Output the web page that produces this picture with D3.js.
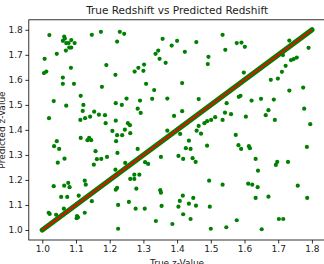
<!DOCTYPE html>
<html>
<head>
<meta charset="utf-8">
<script src="https://cdn.jsdelivr.net/npm/d3@7"></script>
<style>
  html, body { margin: 0; padding: 0; background: #fff; }
  svg { display: block; }
  text { font-family: "DejaVu Sans", sans-serif; }
</style>
</head>
<body>
<svg id="chart" width="324" height="264"></svg>
<script>
// ---- data ----
const trueZ = [
  1.021,1.065,1.067,1.061,1.086,1.071,1.078,1.096,1.080,1.086,1.070,1.043,1.007,1.147,1.174,1.230,1.243,1.222,1.190,1.217,
  1.085,1.012,1.005,1.061,1.061,1.094,1.177,1.114,1.250,1.034,1.218,1.236,1.071,1.122,1.120,1.154,1.168,1.186,1.142,1.127,
  1.113,1.020,1.188,1.218,1.254,1.260,
  1.357,1.400,1.384,1.344,1.336,1.423,1.348,1.366,1.302,1.285,1.300,1.274,1.457,1.535,1.543,1.493,1.491,1.308,1.415,1.332,
  1.290,1.326,1.371,1.464,1.283,1.292,1.415,1.391,1.464,1.481,1.489,1.501,1.513,1.535,1.542,
  1.577,1.591,1.601,1.733,1.790,1.714,1.738,1.746,1.755,1.722,1.711,1.598,1.678,1.699,1.733,1.774,1.588,1.583,1.621,1.649,
  1.687,1.547,1.777,1.671,1.560,1.663,1.604,1.690,1.795,
  1.114,1.134,1.139,1.145,1.043,1.035,1.050,1.208,1.222,1.237,1.219,1.245,1.158,1.223,1.192,1.162,1.175,1.066,1.046,1.153,
  1.246,1.217,1.126,1.129,1.077,1.065,1.081,1.034,1.222,1.218,1.056,1.074,1.108,1.147,1.225,1.064,1.019,1.022,1.041,1.126,
  1.103,1.106,1.102,1.225,
  1.261,1.371,1.409,1.458,1.471,1.435,1.489,1.426,1.440,1.283,1.404,1.418,1.446,1.455,1.352,1.305,1.314,1.273,1.288,1.261,
  1.273,1.495,1.535,1.279,1.350,1.352,1.417,1.448,1.408,1.257,1.435,1.456,1.354,1.404,1.497,1.277,1.304,1.418,1.440,1.337,
  1.386,1.500,1.546,
  1.574,1.582,1.590,1.613,1.616,1.785,1.633,1.697,1.693,1.729,1.640,1.611,1.623,1.639,1.758,1.633,1.671,1.786,1.577,1.702,
  1.715,1.651
];
const predZ = [
  1.779,1.773,1.765,1.756,1.759,1.747,1.747,1.747,1.729,1.729,1.717,1.704,1.684,1.780,1.792,1.792,1.784,1.753,1.659,1.620,
  1.648,1.633,1.627,1.609,1.584,1.584,1.572,1.536,1.525,1.515,1.507,1.500,1.497,1.500,1.476,1.473,1.461,1.459,1.453,1.447,
  1.440,1.447,1.427,1.437,1.427,1.419,
  1.764,1.756,1.737,1.717,1.704,1.712,1.684,1.668,1.661,1.648,1.636,1.633,1.751,1.780,1.720,1.692,1.663,1.584,1.587,1.559,
  1.517,1.524,1.525,1.523,1.485,1.468,1.475,1.456,1.416,1.427,1.435,1.440,1.451,1.440,1.469,
  1.747,1.749,1.732,1.757,1.728,1.699,1.679,1.683,1.689,1.656,1.632,1.629,1.600,1.605,1.557,1.569,1.536,1.532,1.517,1.524,
  1.521,1.507,1.485,1.479,1.463,1.459,1.453,1.440,1.423,
  1.368,1.359,1.368,1.359,1.355,1.335,1.324,1.396,1.379,1.379,1.355,1.401,1.315,1.308,1.292,1.283,1.284,1.285,1.269,1.261,
  1.268,1.241,1.197,1.181,1.188,1.177,1.171,1.175,1.168,1.161,1.132,1.132,1.137,1.115,1.100,1.085,1.069,1.064,1.061,1.069,
  1.056,1.051,1.047,1.005,
  1.387,1.397,1.384,1.397,1.385,1.357,1.337,1.327,1.324,1.324,1.296,1.284,1.287,1.272,1.292,1.271,1.264,1.221,1.221,1.204,
  1.204,1.197,1.181,1.165,1.159,1.149,1.137,1.128,1.116,1.112,1.105,1.097,1.096,1.093,1.093,1.085,1.085,1.063,1.044,1.036,
  1.024,1.005,1.011,
  1.380,1.339,1.324,1.335,1.327,1.332,1.284,1.272,1.260,1.272,1.237,1.185,1.181,1.171,1.177,1.128,1.133,1.128,1.039,1.044,
  1.044,1.003
];
// points that lie on the diagonal (predicted == true), drawn as a dense band, and the identity line
const bandZ = [1.0, 1.8];
const lineZ = [1.0, 1.8];
const xTicks = [1.0, 1.1, 1.2, 1.3, 1.4, 1.5, 1.6, 1.7, 1.8];
const yTicks = [1.0, 1.1, 1.2, 1.3, 1.4, 1.5, 1.6, 1.7, 1.8];
const titleText = "True Redshift vs Predicted Redshift";
const xLabel = "True z-Value";
const yLabel = "Predicted z-Value";

// ---- drawing ----
const svg = d3.select("#chart");
const mLeft = 28.8, mRight = 325.4, mTop = 19.8, mBottom = 240;
const x = d3.scaleLinear().domain([0.96, 1.84]).range([mLeft, mRight]);
const y = d3.scaleLinear().domain([0.96, 1.84]).range([mBottom, mTop]);

// scatter
svg.append("g").selectAll("circle")
  .data(trueZ.map((t, i) => [t, predZ[i]]))
  .join("circle")
  .attr("cx", d => x(d[0]))
  .attr("cy", d => y(d[1]))
  .attr("r", 2.1)
  .attr("fill", "#008000");

// dense diagonal band
const line = d3.line().x(d => x(d)).y(d => y(d));
svg.append("path")
  .attr("d", line(bandZ))
  .attr("stroke", "#008000")
  .attr("stroke-width", 5.2)
  .attr("stroke-linecap", "round")
  .attr("fill", "none");
// identity line
svg.append("path")
  .attr("d", line(lineZ))
  .attr("stroke", "#ff0000")
  .attr("stroke-width", 1.6)
  .attr("fill", "none");

// axes
const xAxis = d3.axisBottom(x).tickValues(xTicks).tickFormat(d3.format(".1f")).tickSize(3.5).tickPadding(2.5);
const yAxis = d3.axisLeft(y).tickValues(yTicks).tickFormat(d3.format(".1f")).tickSize(3.5).tickPadding(2.5);
const gx = svg.append("g").attr("transform", `translate(0,${mBottom})`).call(xAxis);
const gy = svg.append("g").attr("transform", `translate(${mLeft},0)`).call(yAxis);
[gx, gy].forEach(g => {
  g.select(".domain").remove();
  g.selectAll("line").attr("stroke", "#000").attr("stroke-width", 0.8);
  g.selectAll("text").attr("fill", "#222").style("font-size", "9px").style("font-family", "DejaVu Sans");
});

// frame (spines)
svg.append("rect")
  .attr("x", mLeft).attr("y", mTop)
  .attr("width", mRight - mLeft).attr("height", mBottom - mTop)
  .attr("fill", "none").attr("stroke", "#000").attr("stroke-width", 0.8);

// title & labels
svg.append("text")
  .attr("x", (mLeft + mRight) / 2).attr("y", 14.3)
  .attr("text-anchor", "middle")
  .style("font-size", "10.5px").attr("fill", "#222")
  .text(titleText);
svg.append("text")
  .attr("x", (mLeft + mRight) / 2).attr("y", 265.5)
  .attr("text-anchor", "middle")
  .style("font-size", "9px").attr("fill", "#222")
  .text(xLabel);
svg.append("text")
  .attr("transform", `translate(4.5,130) rotate(-90)`)
  .attr("text-anchor", "middle")
  .style("font-size", "9px").attr("fill", "#222")
  .text(yLabel);
</script>
</body>
</html>
